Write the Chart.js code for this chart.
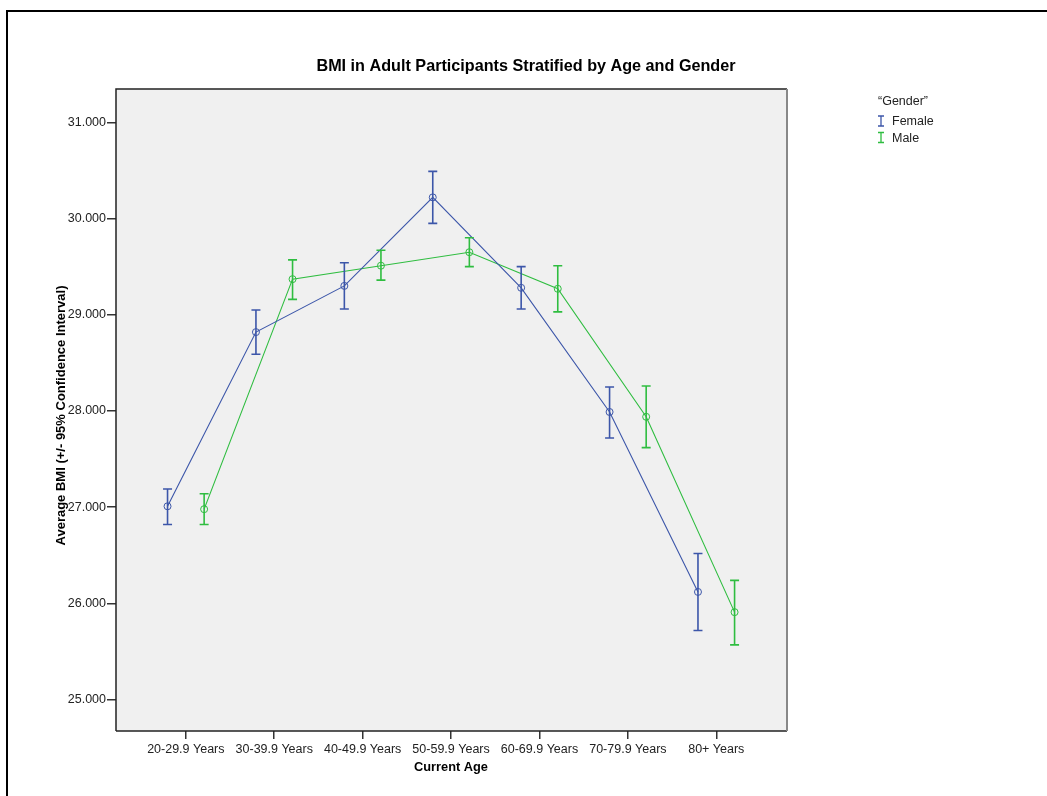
<!DOCTYPE html>
<html>
<head>
<meta charset="utf-8">
<script src="https://cdn.jsdelivr.net/npm/chart.js@4/dist/chart.umd.min.js"></script>
<style>
  html, body { margin: 0; padding: 0; background: #fff; }
  #wrap { position: relative; width: 1047px; height: 796px; overflow: hidden; }
  #frame { position: absolute; left: 6px; top: 10px; width: 1100px; height: 900px; border-left: 2px solid #000; border-top: 2px solid #000; }
  canvas { position: absolute; left: 0; top: 0; }
</style>
</head>
<body>
<div id="wrap">
  <div id="frame"></div>
  <canvas id="chart" width="1047" height="796"></canvas>
</div>
<script>
const categories = ['20-29.9 Years', '30-39.9 Years', '40-49.9 Years', '50-59.9 Years', '60-69.9 Years', '70-79.9 Years', '80+ Years'];
const femaleMean = [27.01, 28.82, 29.30, 30.22, 29.28, 27.99, 26.12];
const femaleLow  = [26.82, 28.59, 29.06, 29.95, 29.06, 27.72, 25.72];
const femaleHigh = [27.19, 29.05, 29.54, 30.49, 29.50, 28.25, 26.52];
const maleMean = [26.98, 29.37, 29.51, 29.65, 29.27, 27.94, 25.91];
const maleLow  = [26.82, 29.16, 29.36, 29.50, 29.03, 27.62, 25.57];
const maleHigh = [27.14, 29.57, 29.67, 29.80, 29.51, 28.26, 26.24];
const yTicks = [25, 26, 27, 28, 29, 30, 31];

const title = 'BMI in Adult Participants Stratified by Age and Gender';
const xTitle = 'Current Age';
const yTitle = 'Average BMI (+/- 95% Confidence Interval)';
const legendTitle = '\u201CGender\u201D';
const seriesNames = ['Female', 'Male'];
const blue = '#3c56a9';
const green = '#2fbd40';
const font = '"Liberation Sans", Arial, sans-serif';
const offset = 0.207;

function points(vals, dx) {
  return vals.map((v, i) => ({ x: i + dx, y: v }));
}

const errorBars = {
  id: 'errorBars',
  beforeDraw(chart) {
    const { ctx, chartArea: a } = chart;
    ctx.save();
    ctx.fillStyle = '#f0f0f0';
    ctx.fillRect(a.left, a.top, a.right - a.left, a.bottom - a.top);
    ctx.restore();
  },
  afterDatasetsDraw(chart) {
    const { ctx } = chart;
    const x = chart.scales.x, y = chart.scales.y;
    const sets = [[femaleLow, femaleHigh, -offset, blue], [maleLow, maleHigh, offset, green]];
    ctx.save();
    ctx.lineWidth = 1.6;
    sets.forEach(([lo, hi, dx, col]) => {
      ctx.strokeStyle = col;
      lo.forEach((l, i) => {
        const px = x.getPixelForValue(i + dx);
        const y1 = y.getPixelForValue(l), y2 = y.getPixelForValue(hi[i]);
        ctx.beginPath();
        ctx.moveTo(px, y1); ctx.lineTo(px, y2);
        ctx.moveTo(px - 4.5, y1); ctx.lineTo(px + 4.5, y1);
        ctx.moveTo(px - 4.5, y2); ctx.lineTo(px + 4.5, y2);
        ctx.stroke();
      });
    });
    ctx.restore();
  },
  afterDraw(chart) {
    const { ctx, chartArea: a } = chart;
    ctx.save();
    // plot frame
    ctx.lineWidth = 1.5;
    ctx.strokeStyle = '#222';
    ctx.beginPath();
    ctx.moveTo(a.left, a.bottom); ctx.lineTo(a.left, a.top); ctx.lineTo(a.right, a.top);
    ctx.moveTo(a.left, a.bottom); ctx.lineTo(a.right, a.bottom);
    ctx.stroke();
    ctx.strokeStyle = '#888';
    ctx.lineWidth = 2;
    ctx.beginPath();
    ctx.moveTo(a.right, a.top); ctx.lineTo(a.right, a.bottom);
    ctx.stroke();

    ctx.fillStyle = '#000';
    ctx.textBaseline = 'middle';
    ctx.textAlign = 'center';
    ctx.font = 'bold 16.2px ' + font;
    ctx.fillText(title, 526, 67);
    ctx.font = 'bold 12.8px ' + font;
    ctx.fillText(xTitle, 451, 767);
    ctx.save();
    ctx.translate(61, 415.5);
    ctx.rotate(-Math.PI / 2);
    ctx.font = 'bold 13px ' + font;
    ctx.fillText(yTitle, 0, 0);
    ctx.restore();

    // legend
    ctx.textAlign = 'left';
    ctx.font = '12.5px ' + font;
    ctx.fillStyle = '#222';
    ctx.fillText(legendTitle, 878, 102);
    [blue, green].forEach((col, i) => {
      const cy = 121 + i * 16.5;
      ctx.strokeStyle = col;
      ctx.lineWidth = 1.3;
      ctx.beginPath();
      ctx.moveTo(881, cy - 5); ctx.lineTo(881, cy + 5);
      ctx.moveTo(878, cy - 5); ctx.lineTo(884, cy - 5);
      ctx.moveTo(878, cy + 5); ctx.lineTo(884, cy + 5);
      ctx.stroke();
      ctx.fillText(seriesNames[i], 892, cy + 1);
    });
    ctx.restore();
  }
};

const lineStyle = col => ({
  showLine: true,
  borderColor: col,
  borderWidth: 1.1,
  pointStyle: 'circle',
  pointRadius: 3.5,
  pointBorderWidth: 1,
  pointBorderColor: col,
  pointBackgroundColor: 'rgba(0,0,0,0)',
  tension: 0
});

new Chart(document.getElementById('chart'), {
  type: 'scatter',
  data: {
    datasets: [
      Object.assign({ label: seriesNames[0], data: points(femaleMean, -offset) }, lineStyle(blue)),
      Object.assign({ label: seriesNames[1], data: points(maleMean, offset) }, lineStyle(green))
    ]
  },
  options: {
    responsive: false,
    devicePixelRatio: 1,
    animation: false,
    layout: { padding: { left: 0, top: 89, right: 260, bottom: 0 } },
    plugins: { legend: { display: false }, tooltip: { enabled: false } },
    scales: {
      x: {
        type: 'linear',
        min: -0.79,
        max: 6.8,
        afterFit: s => { s.height = 65; },
        afterBuildTicks: s => { s.ticks = categories.map((c, i) => ({ value: i })); },
        border: { display: false },
        grid: { drawOnChartArea: false, drawTicks: true, tickLength: 8, color: '#333', lineWidth: 1.5 },
        ticks: {
          padding: 3,
          color: '#222',
          font: { family: font, size: 12.5 },
          maxRotation: 0,
          autoSkip: false,
          callback: v => categories[v]
        }
      },
      y: {
        min: 24.675,
        max: 31.346,
        afterFit: s => { s.width = 116; },
        afterBuildTicks: s => { s.ticks = yTicks.map(v => ({ value: v })); },
        border: { display: false },
        grid: { drawOnChartArea: false, drawTicks: true, tickLength: 9, color: '#333', lineWidth: 1.5 },
        ticks: {
          padding: 1,
          color: '#222',
          font: { family: font, size: 12.5 },
          callback: v => v.toFixed(3)
        }
      }
    }
  },
  plugins: [errorBars]
});
</script>
</body>
</html>
